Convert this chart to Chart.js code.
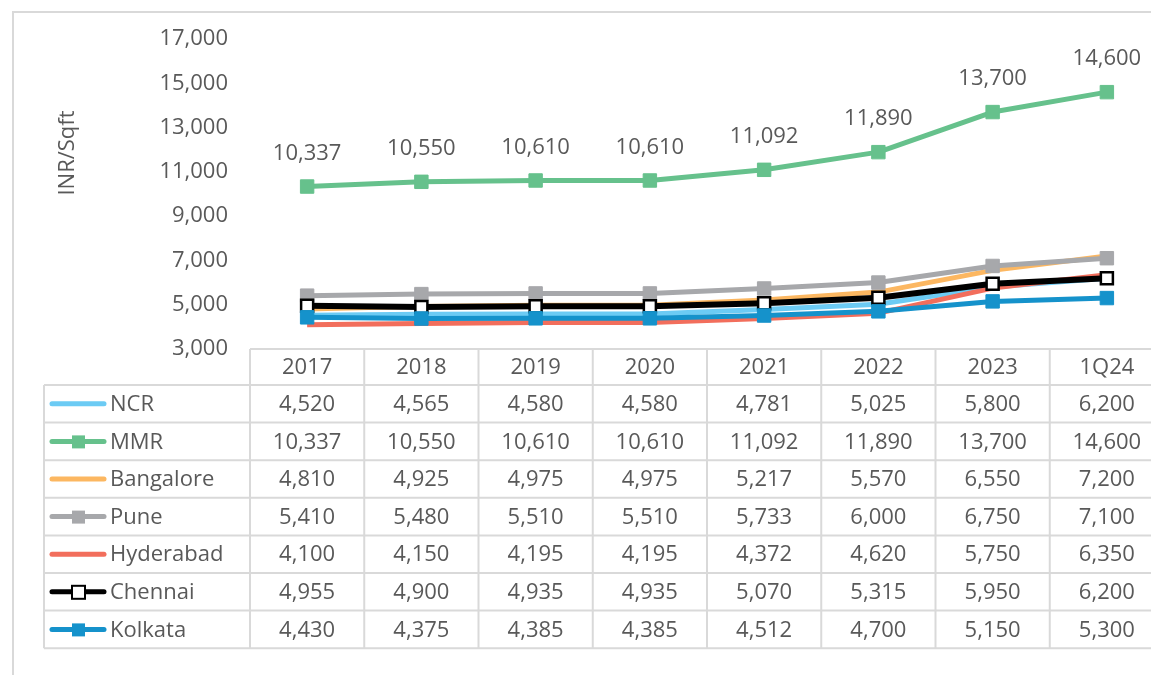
<!DOCTYPE html>
<html>
<head>
<meta charset="utf-8">
<script src="https://cdn.jsdelivr.net/npm/chart.js@4.4.1/dist/chart.umd.min.js"></script>
<style>
    html, body { margin: 0; padding: 0; background: #fff; overflow: hidden; }
    #frame { position: absolute; left: 12px; top: 11px; width: 1200px; height: 700px;
             border-left: 2px solid #d9d9d9; border-top: 2px solid #d9d9d9; }
    #wrap { position: absolute; left: 0; top: 0; width: 1180px; height: 675px; }
</style>
</head>
<body>
<div id="frame"></div>
<div id="wrap"><canvas id="myChart"></canvas></div>
<script>
const labels = ['2017', '2018', '2019', '2020', '2021', '2022', '2023', '1Q24'];
const ncr       = [4520, 4565, 4580, 4580, 4781, 5025, 5800, 6200];
const mmr       = [10337, 10550, 10610, 10610, 11092, 11890, 13700, 14600];
const bangalore = [4810, 4925, 4975, 4975, 5217, 5570, 6550, 7200];
const pune      = [5410, 5480, 5510, 5510, 5733, 6000, 6750, 7100];
const hyderabad = [4100, 4150, 4195, 4195, 4372, 4620, 5750, 6350];
const chennai   = [4955, 4900, 4935, 4935, 5070, 5315, 5950, 6200];
const kolkata   = [4430, 4375, 4385, 4385, 4512, 4700, 5150, 5300];
const yMin = 3000, yMax = 17000, yStep = 2000;

const FONT = '"Open Sans", sans-serif';
const TEXT = '#595959';
const GRID = '#d9d9d9';

// name, values, colour, marker ('none' | 'fill' | 'hollow')
const series = [
    ['NCR', ncr, '#6ccbf4', 'none'],
    ['MMR', mmr, '#66c18c', 'fill'],
    ['Bangalore', bangalore, '#fcb761', 'none'],
    ['Pune', pune, '#a7a8ab', 'fill'],
    ['Hyderabad', hyderabad, '#f26e5c', 'none'],
    ['Chennai', chennai, '#000000', 'hollow'],
    ['Kolkata', kolkata, '#1592cb', 'fill']
];

const fmt = v => v.toLocaleString('en-US');

const datasets = series.map(([name, values, color, marker], i) => ({
    label: name,
    data: values,
    borderColor: color,
    backgroundColor: color,
    borderWidth: name === 'Chennai' ? 6 : 5,
    borderJoinStyle: 'round',
    tension: 0,
    order: -i, // later series on top, like the original
    pointStyle: 'rect',
    pointRadius: marker === 'none' ? 0 : (marker === 'hollow' ? 8.5 : 9.5),
    pointBackgroundColor: marker === 'hollow' ? '#ffffff' : color,
    pointBorderColor: color,
    pointBorderWidth: marker === 'hollow' ? 2.5 : 1
}));

// MMR value labels + y title
const labelPlugin = {
    id: 'mmrLabels',
    afterDatasetsDraw(chart) {
        const ctx = chart.ctx;
        const meta = chart.getDatasetMeta(1);
        ctx.save();
        ctx.font = '22px ' + FONT;
        ctx.fillStyle = TEXT;
        ctx.textAlign = 'center';
        ctx.textBaseline = 'middle';
        meta.data.forEach((pt, i) => {
            ctx.fillText(fmt(mmr[i]), pt.x, pt.y - 33);
        });
        ctx.translate(68, 153);
        ctx.rotate(-Math.PI / 2);
        ctx.fillText('INR/Sqft', 0, 0);
        ctx.restore();
    }
};

// data table under the plot, columns follow the x scale
const tablePlugin = {
    id: 'dataTable',
    afterDraw(chart) {
        const { ctx, chartArea } = chart;
        const x = chart.scales.x;
        const colW = x.width / labels.length;
        const top = chartArea.bottom;
        const headH = 36;
        const rowH = 37.6;
        const left = 44;
        const bottom = top + headH + rowH * series.length;

        ctx.save();
        ctx.strokeStyle = GRID;
        ctx.lineWidth = 2;
        ctx.beginPath();
        // horizontal lines
        ctx.moveTo(x.left, top); ctx.lineTo(x.right, top);
        for (let r = 0; r <= series.length; r++) {
            const y = top + headH + r * rowH;
            ctx.moveTo(left, y); ctx.lineTo(x.right, y);
        }
        // vertical lines
        for (let c = 0; c <= labels.length; c++) {
            const xx = x.left + c * colW;
            ctx.moveTo(xx, top); ctx.lineTo(xx, bottom);
        }
        ctx.moveTo(left, top + headH); ctx.lineTo(left, bottom);
        ctx.stroke();

        ctx.font = '22px ' + FONT;
        ctx.fillStyle = TEXT;
        ctx.textBaseline = 'middle';
        ctx.textAlign = 'center';
        labels.forEach((lab, i) => {
            ctx.fillText(lab, x.getPixelForValue(i), top + headH / 2 + 1);
        });

        series.forEach(([name, values, color, marker], r) => {
            const cy = top + headH + r * rowH + rowH / 2 + 1;
            // legend key
            ctx.strokeStyle = color;
            ctx.lineWidth = 5;
            ctx.lineCap = 'round';
            ctx.beginPath();
            ctx.moveTo(52, cy - 1); ctx.lineTo(104, cy - 1);
            ctx.stroke();
            if (marker !== 'none') {
                ctx.fillStyle = marker === 'hollow' ? '#ffffff' : color;
                ctx.fillRect(72, cy - 7, 13, 13);
                if (marker === 'hollow') {
                    ctx.lineWidth = 2;
                    ctx.strokeStyle = color;
                    ctx.strokeRect(72, cy - 7, 13, 13);
                }
            }
            ctx.fillStyle = TEXT;
            ctx.textAlign = 'left';
            ctx.fillText(name, 110, cy);
            ctx.textAlign = 'center';
            values.forEach((v, i) => {
                ctx.fillText(fmt(v), x.getPixelForValue(i), cy);
            });
        });
        ctx.restore();
    }
};

const config = {
    type: 'line',
    data: { labels: labels, datasets: datasets },
    options: {
        responsive: true,
        maintainAspectRatio: false,
        animation: false,
        events: [],
        layout: { padding: { top: 39, bottom: 326, right: 16, left: 0 } },
        plugins: {
            legend: { display: false },
            tooltip: { enabled: false }
        },
        scales: {
            x: {
                display: false,
                offset: true
            },
            y: {
                min: yMin,
                max: yMax,
                grid: { display: false, drawTicks: false },
                border: { display: false },
                afterFit: s => { s.width = 250; },
                ticks: {
                    stepSize: yStep,
                    padding: 22,
                    color: TEXT,
                    font: { family: FONT, size: 22 },
                    callback: v => fmt(v)
                }
            }
        }
    },
    plugins: [labelPlugin, tablePlugin]
};

new Chart(document.getElementById('myChart').getContext('2d'), config);
</script>
</body>
</html>
